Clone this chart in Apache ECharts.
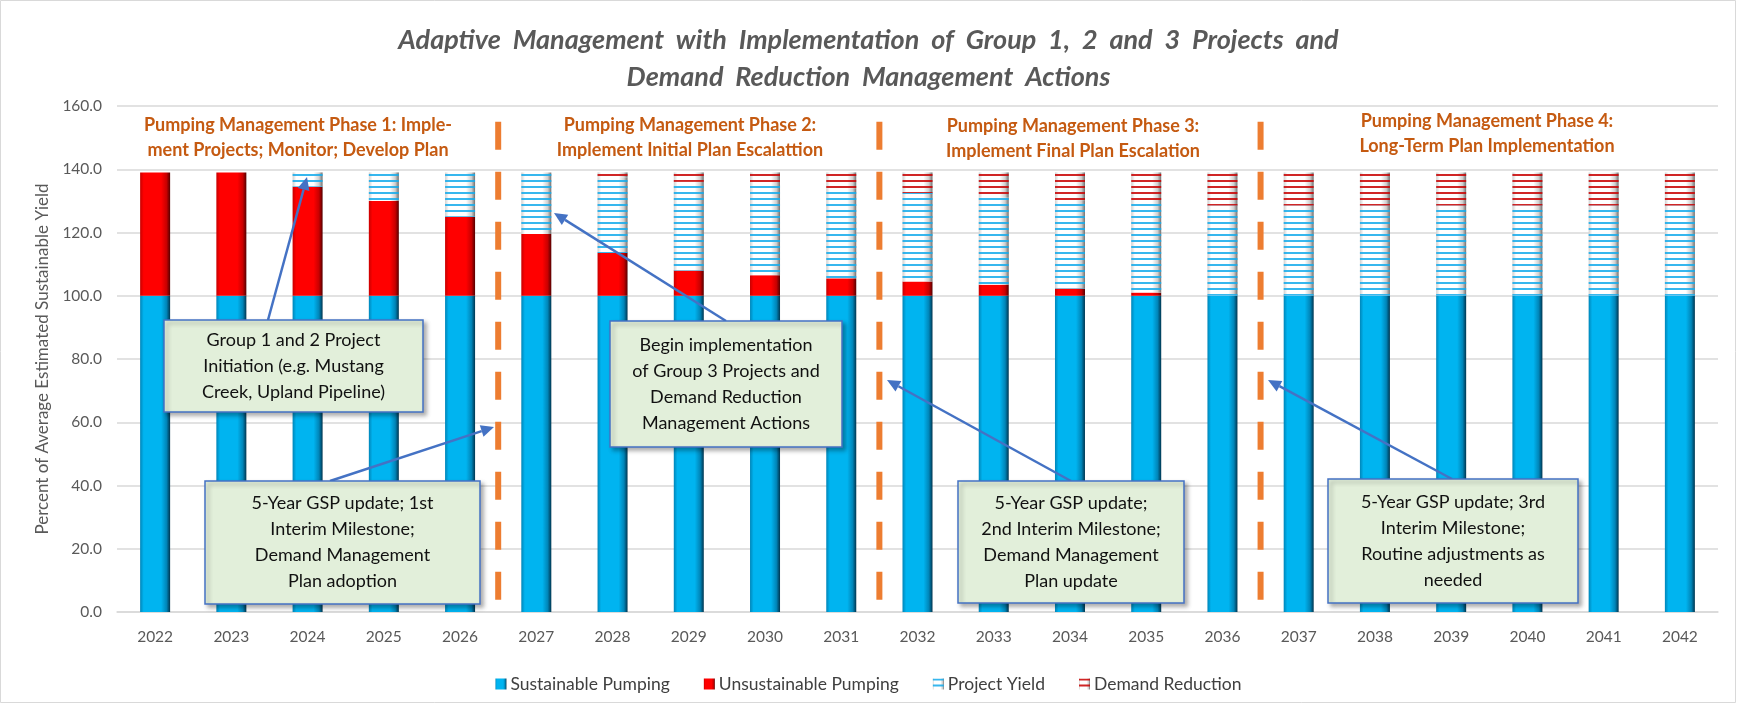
<!DOCTYPE html>
<html>
<head>
<meta charset="utf-8">
<script src="https://cdn.jsdelivr.net/npm/echarts@6/dist/echarts.min.js"></script>
<style>
  html, body { margin: 0; padding: 0; background: #fff; }
  #chart { width: 1737px; height: 704px; }
</style>
</head>
<body>
<div id="chart"></div>
<script>
// data (percent of average estimated sustainable yield)
var years = ['2022', '2023', '2024', '2025', '2026', '2027', '2028', '2029', '2030', '2031', '2032',
             '2033', '2034', '2035', '2036', '2037', '2038', '2039', '2040', '2041', '2042'];
var sustainable = [100, 100, 100, 100, 100, 100, 100, 100, 100, 100, 100,
                   100, 100, 100, 100, 100, 100, 100, 100, 100, 100];
var unsustainable = [39, 39, 34.5, 30, 25, 19.5, 13.5, 8, 6.5, 5.5, 4.5,
                     3.5, 2.3, 1, 0, 0, 0, 0, 0, 0, 0];
var projectYield = [0, 0, 4.5, 9, 14, 19.5, 24, 28, 28.5, 28.5, 28,
                    27.5, 27.7, 28.3, 28.5, 28.5, 28.5, 28.5, 28.5, 28.5, 28.5];
var demandReduction = [0, 0, 0, 0, 0, 0, 1.5, 3, 4, 5, 6.5,
                       8, 9, 9.7, 10.5, 10.5, 10.5, 10.5, 10.5, 10.5, 10.5];
// phase boundaries (between categories) and phase titles
var phaseBreaks = [4.5, 9.5, 14.5];
var phaseTitles = [
  'Pumping Management Phase 1: Imple-\nment Projects; Monitor; Develop Plan',
  'Pumping Management Phase 2:\nImplement Initial Plan Escalattion',
  'Pumping Management Phase 3:\nImplement Final Plan Escalation',
  'Pumping Management Phase 4:\nLong-Term Plan Implementation'
];
var notes = [
  'Group 1 and 2 Project\nInitiation (e.g. Mustang\nCreek, Upland Pipeline)',
  '5-Year GSP update; 1st\nInterim Milestone;\nDemand Management\nPlan adoption',
  'Begin implementation\nof Group 3 Projects and\nDemand Reduction\nManagement Actions',
  '5-Year GSP update;\n2nd Interim Milestone;\nDemand Management\nPlan update',
  '5-Year GSP update; 3rd\nInterim Milestone;\nRoutine adjustments as\nneeded'
];

var FONT = 'Lato, "Open Sans", sans-serif';
var chart = echarts.init(document.getElementById('chart'));

function bevel(edge, mid, dark) {
  return new echarts.graphic.LinearGradient(0, 0, 1, 0, [
    {offset: 0, color: edge}, {offset: 0.12, color: mid},
    {offset: 0.7, color: mid}, {offset: 0.88, color: edge},
    {offset: 1, color: dark}
  ]);
}

function stripes(c) {
  return {symbol: 'rect', symbolSize: 1, dashArrayX: [1, 0], dashArrayY: [2, 4], rotation: 0, color: c};
}

// callout boxes + arrows (pixel layout of the annotations)
var boxes = [
  {x: 164, y: 320, w: 259, h: 92, tip: [307, 177], from: [268, 320]},
  {x: 205, y: 481, w: 275, h: 123, tip: [494, 427], from: [330, 481]},
  {x: 610, y: 321, w: 232, h: 126, tip: [554, 213], from: [726, 321]},
  {x: 958, y: 481, w: 226, h: 122, tip: [887, 380], from: [1071, 481]},
  {x: 1328, y: 479, w: 250, h: 124, tip: [1268, 380], from: [1452, 479]}
];
var phasePos = [[298, 138], [690, 138], [1073, 139], [1487, 134]];

function arrow(from, to) {
  var dx = to[0] - from[0], dy = to[1] - from[1];
  var len = Math.sqrt(dx * dx + dy * dy), ux = dx / len, uy = dy / len;
  var hl = 13, hw = 6;
  var bx = to[0] - ux * hl, by = to[1] - uy * hl;
  return [
    {type: 'line', z: 50, shape: {x1: from[0], y1: from[1], x2: bx, y2: by},
     style: {stroke: '#4472C4', lineWidth: 2.5}},
    {type: 'polygon', z: 50, shape: {points: [to, [bx - uy * hw, by + ux * hw], [bx + uy * hw, by - ux * hw]]},
     style: {fill: '#4472C4'}}
  ];
}

var graphics = [
  {type: 'rect', shape: {x: 0.5, y: 0.5, width: 1735, height: 702}, style: {fill: 'none', stroke: '#D9D9D9', lineWidth: 1}, z: -1}
];
phaseTitles.forEach(function (t, i) {
  graphics.push({type: 'text', z: 40, x: phasePos[i][0], y: phasePos[i][1],
    style: {text: t, fill: '#C55A11', font: 'bold 18px ' + FONT, align: 'center', verticalAlign: 'middle', lineHeight: 25}});
});
boxes.forEach(function (b, i) {
  graphics = graphics.concat(arrow(b.from, b.tip));
  graphics.push({type: 'rect', z: 60, shape: {x: b.x, y: b.y, width: b.w, height: b.h},
    style: {fill: '#E2EFDA', stroke: '#4472C4', lineWidth: 1.5, shadowBlur: 4, shadowOffsetX: 3, shadowOffsetY: 3, shadowColor: 'rgba(0,0,0,0.3)'}});
  graphics.push({type: 'text', z: 61, x: b.x + b.w / 2, y: b.y + b.h / 2,
    style: {text: notes[i], fill: '#111', font: '18px ' + FONT, align: 'center', verticalAlign: 'middle', lineHeight: 26}});
});

var dashSeries = phaseBreaks.map(function (p) {
  return {type: 'line', xAxisIndex: 1, silent: true, symbol: 'none', z: 30,
    data: [[p, 155], [p, 0]],
    lineStyle: {color: '#ED7D31', width: 6, type: [28, 22]}};
});

var option = {
  backgroundColor: '#fff',
  animation: false,
  title: {
    text: 'Adaptive  Management  with  Implementation  of  Group  1,  2  and  3  Projects  and\nDemand  Reduction  Management  Actions',
    left: 'center', top: 17,
    textStyle: {fontFamily: FONT, fontSize: 27, fontWeight: 'bold', fontStyle: 'italic', color: '#595959', lineHeight: 37}
  },
  legend: {
    data: ['Sustainable Pumping', 'Unsustainable Pumping', 'Project Yield', 'Demand Reduction'],
    left: 'center', top: 670, itemWidth: 11, itemHeight: 11, itemGap: 34, icon: 'rect',
    textStyle: {fontFamily: FONT, fontSize: 17.5, color: '#404040', padding: [0, 0, 0, -1]}
  },
  grid: {left: 117, right: 19, top: 106, bottom: 92},
  xAxis: [{
    type: 'category', data: years,
    axisTick: {show: false},
    axisLine: {lineStyle: {color: '#D9D9D9', width: 1.5}},
    axisLabel: {fontFamily: FONT, fontSize: 15.5, color: '#595959', margin: 17}
  }, {
    type: 'value', min: -0.5, max: 20.5, show: false
  }],
  yAxis: {
    type: 'value', min: 0, max: 160, interval: 20,
    name: 'Percent of Average Estimated Sustainable Yield',
    nameLocation: 'middle', nameGap: 59,
    nameTextStyle: {fontFamily: FONT, fontSize: 17, color: '#595959'},
    axisLine: {show: false, onZero: false},
    axisTick: {show: false},
    axisLabel: {fontFamily: FONT, fontSize: 15.5, color: '#595959', margin: 15,
      formatter: function (v) { return v.toFixed(1); }},
    splitLine: {lineStyle: {color: '#D9D9D9', width: 1.5}}
  },
  graphic: graphics,
  series: [{
    name: 'Sustainable Pumping', type: 'bar', stack: 'y', barWidth: 30, data: sustainable,
    itemStyle: {color: bevel('#0085b8', '#00b4f0', '#00354f')}
  }, {
    name: 'Unsustainable Pumping', type: 'bar', stack: 'y', barWidth: 30, data: unsustainable,
    itemStyle: {color: bevel('#c80000', '#ff0000', '#550000')}
  }, {
    name: 'Project Yield', type: 'bar', stack: 'y', barWidth: 30, data: projectYield,
    itemStyle: {color: bevel('#cfcfcf', '#ffffff', '#6f6f6f'), decal: stripes('rgba(20,170,235,0.85)')}
  }, {
    name: 'Demand Reduction', type: 'bar', stack: 'y', barWidth: 30, data: demandReduction,
    itemStyle: {color: bevel('#cfcfcf', '#ffffff', '#6f6f6f'), decal: stripes('rgba(200,0,0,0.85)')}
  }].concat(dashSeries)
};

chart.setOption(option);
</script>
</body>
</html>
